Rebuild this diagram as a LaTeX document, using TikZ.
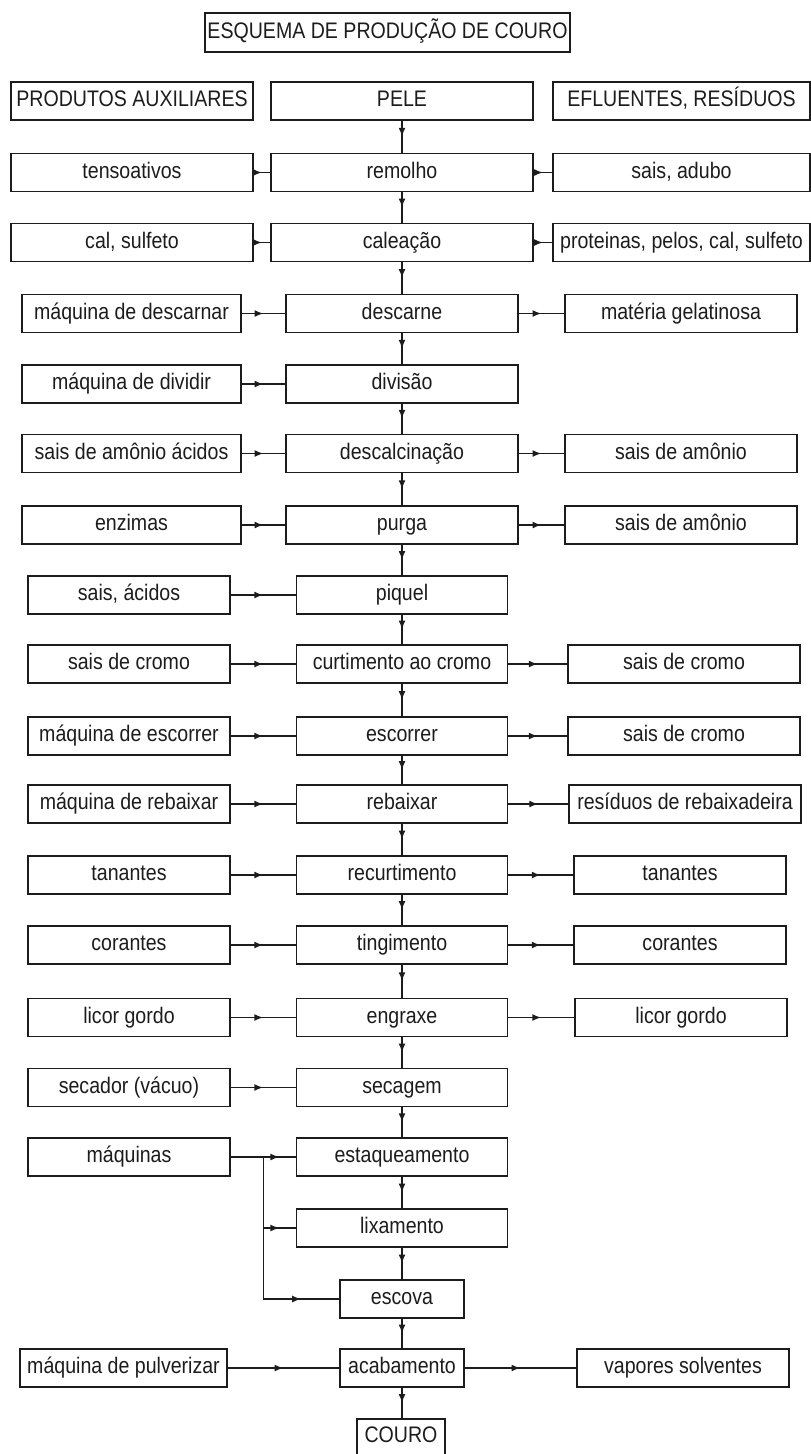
\documentclass[tikz,border=0pt]{standalone}
\usepackage{fontspec}
\setmainfont{Liberation Sans}[FakeStretch=0.87]
\usetikzlibrary{arrows.meta,decorations.markings,calc}

\definecolor{ink}{RGB}{28,28,28}

\tikzset{
  box/.style={draw=ink, line width=1.9pt, inner sep=0pt, minimum height=38pt,
    text=ink, text height=16pt, text depth=5pt,
    font=\fontsize{22.5}{26}\selectfont},
  % column widths
  lA/.style={box, minimum width=242pt},
  cA/.style={box, minimum width=262pt},
  rA/.style={box, minimum width=257pt},
  lB/.style={box, minimum width=219pt},
  cB/.style={box, minimum width=232pt},
  rB/.style={box, minimum width=232pt},
  lC/.style={box, minimum width=202pt},
  cC/.style={box, minimum width=211pt},
  rC/.style={box, minimum width=232pt},
  rD/.style={box, minimum width=212pt},
  cE/.style={box, minimum width=124pt},
  lE/.style={box, minimum width=207pt},
  rE/.style={box, minimum width=212pt},
  link/.style={draw=ink, line width=1.5pt},
  flow/.style={link, postaction={decorate},
    decoration={markings, mark=at position 0.5 with {\arrow[ink]{Latex[length=9pt,width=7pt]}}}},
}

\begin{document}
\begin{tikzpicture}[x=1pt,y=-1pt]
\useasboundingbox (0,0) rectangle (811,1454);

% title
\node[box, minimum width=365pt, minimum height=39pt, line width=2.1pt] (title) at (387.5,32.5) {ESQUEMA DE PRODUÇÃO DE COURO};

% headers
\node[lA] (aux)  at (132,101)   {PRODUTOS AUXILIARES};
\node[cA] (pele) at (402,101)   {PELE};
\node[rA] (efl)  at (681.5,101) {EFLUENTES, RESÍDUOS};

% process rows
\node[lA] (in1)  at (132,172.5)   {tensoativos};
\node[cA] (p1)   at (402,172.5)   {remolho};
\node[rA] (out1) at (681.5,172.5) {sais, adubo};

\node[lA] (in2)  at (132,242.5)   {cal, sulfeto};
\node[cA] (p2)   at (402,242.5)   {caleação};
\node[rA] (out2) at (681.5,242.5) {proteinas, pelos, cal, sulfeto};

\node[lB] (in3)  at (131.5,313.5) {máquina de descarnar};
\node[cB] (p3)   at (402,313.5)   {descarne};
\node[rB] (out3) at (681,313.5)   {matéria gelatinosa};

\node[lB] (in4)  at (131.5,384)   {máquina de dividir};
\node[cB] (p4)   at (402,384)     {divisão};

\node[lB] (in5)  at (131.5,453.5) {sais de amônio ácidos};
\node[cB] (p5)   at (402,453.5)   {descalcinação};
\node[rB] (out5) at (681,453.5)   {sais de amônio};

\node[lB] (in6)  at (131.5,525)   {enzimas};
\node[cB] (p6)   at (402,525)     {purga};
\node[rB] (out6) at (681,525)     {sais de amônio};

\node[lC] (in7)  at (129,595)     {sais, ácidos};
\node[cC] (p7)   at (402,595)     {piquel};

\node[lC] (in8)  at (129,664)     {sais de cromo};
\node[cC] (p8)   at (402,664)     {curtimento ao cromo};
\node[rC] (out8) at (684,664)     {sais de cromo};

\node[lC] (in9)  at (129,736)     {máquina de escorrer};
\node[cC] (p9)   at (402,736)     {escorrer};
\node[rC] (out9) at (684,736)     {sais de cromo};

\node[lC] (in10)  at (129,804)    {máquina de rebaixar};
\node[cC] (p10)   at (402,804)    {rebaixar};
\node[rC] (out10) at (685,804)    {resíduos de rebaixadeira};

\node[lC] (in11)  at (129,875)    {tanantes};
\node[cC] (p11)   at (402,875)    {recurtimento};
\node[rD] (out11) at (680,875)    {tanantes};

\node[lC] (in12)  at (129,945)    {corantes};
\node[cC] (p12)   at (402,945)    {tingimento};
\node[rD] (out12) at (680,945)    {corantes};

\node[lC] (in13)  at (129,1017.5) {licor gordo};
\node[cC] (p13)   at (402,1017.5) {engraxe};
\node[rD] (out13) at (681,1017.5) {licor gordo};

\node[lC] (in14)  at (129,1087.5) {secador (vácuo)};
\node[cC] (p14)   at (402,1087.5) {secagem};

\node[lC] (in15)  at (129,1157)   {máquinas};
\node[cC] (p15)   at (402,1157)   {estaqueamento};
\node[cC] (p16)   at (402,1228)   {lixamento};
\node[cE] (p17)   at (402,1299)   {escova};

\node[lE] (in18)  at (123.5,1368) {máquina de pulverizar};
\node[cE] (p18)   at (402,1368)   {acabamento};
\node[rE] (out18) at (683,1368)   {vapores solventes};

\node[box, minimum width=88pt, minimum height=36pt] (couro) at (401,1437) {COURO};

% main line
\draw[flow] (pele.south) -- (p1.north);
\foreach \a/\b in {p1/p2,p2/p3,p3/p4,p4/p5,p5/p6,p6/p7,p7/p8,p8/p9,p9/p10,
                   p10/p11,p11/p12,p12/p13,p13/p14,p14/p15,p15/p16,p16/p17,p17/p18}
  \draw[flow] (\a.south) -- (\b.north);
\draw[flow] (p18.south) -- (p18.south |- couro.north);

% inputs
\foreach \i in {1,...,14,18}
  \draw[flow] (in\i.east) -- (p\i.west);

% outputs
\foreach \i in {1,2,3,5,6,8,9,10,11,12,13,18}
  \draw[flow] (p\i.east) -- (out\i.west);

% shared machine feed
\coordinate (j1) at ($(in15.east)!0.5!(p15.west)$);
\coordinate (j2) at (j1 |- p16.west);
\coordinate (j3) at (j1 |- p17.west);
\draw[link] (in15.east) -- (j1) -- (j3);
\draw[flow] (j1) -- (p15.west);
\draw[flow] (j2) -- (p16.west);
\draw[flow] (j3) -- (p17.west);
\end{tikzpicture}
\end{document}
